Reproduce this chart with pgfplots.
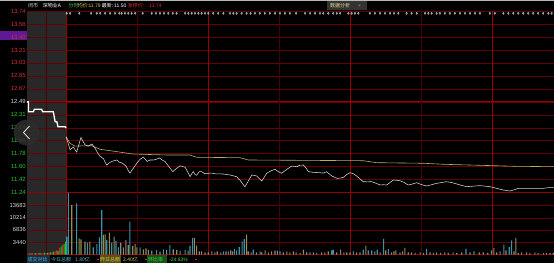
\documentclass[border=0pt]{standalone}
\usepackage{pgfplots}
\pgfplotsset{compat=1.18}
\usepackage{fontspec}
\setmainfont{Liberation Sans}
\newfontfamily\cjk{Noto Sans CJK SC}
\definecolor{gdim}{RGB}{100,0,0}
\definecolor{gbright}{RGB}{150,0,0}
\definecolor{vdim}{RGB}{70,0,0}
\definecolor{lred}{RGB}{215,45,45}
\definecolor{lgreen}{RGB}{40,200,40}
\definecolor{lwhite}{RGB}{215,215,215}
\definecolor{avgc}{RGB}{180,175,95}
\definecolor{vteal}{RGB}{55,150,170}
\definecolor{vkhaki}{RGB}{150,140,85}
\definecolor{vgray}{RGB}{140,140,140}
\definecolor{vred}{RGB}{225,35,35}
\definecolor{vgreen}{RGB}{35,200,35}
\definecolor{shadec}{RGB}{40,40,40}
\definecolor{purp}{RGB}{95,25,150}
\definecolor{hdcyan}{RGB}{70,190,210}
\definecolor{hdyel}{RGB}{215,200,70}
\definecolor{hdgreen}{RGB}{70,210,70}
\definecolor{ftblue}{RGB}{25,45,70}
\definecolor{ftolive}{RGB}{90,80,20}
\definecolor{ftgreen}{RGB}{20,85,20}
\begin{document}
\begin{tikzpicture}
\useasboundingbox (0,0) rectangle (554pt,263pt);
\fill[black] (0,0) rectangle (554pt,263pt);
\fill[shadec] (27pt,8pt) rectangle (66pt,252pt);
\fill[purp] (0,222.5pt) rectangle (26.5pt,231.5pt);
\draw[gray!55, line width=1pt] (0,262.5pt) -- (554pt,262.5pt);
% horizontal grid (price)
\foreach \k in {0,...,14} {\draw[gdim, line width=0.6pt] (27pt,{252pt-12.979pt*\k}) -- (554pt,{252pt-12.979pt*\k});}
\draw[gbright, line width=0.9pt] (27pt,161.15pt) -- (554pt,161.15pt);
\draw[gbright, line width=0.9pt] (27pt,70.3pt) -- (554pt,70.3pt);
% volume grid
\foreach \yy in {20.8,33.0,45.2,57.7} {\draw[gdim, line width=0.6pt] (27pt,\yy pt) -- (554pt,\yy pt);}
\draw[gbright, line width=0.9pt] (27pt,8.4pt) -- (554pt,8.4pt);
% vertical grid
\foreach \xx in {46.7,137.0,279.0,421.1} {\draw[vdim, line width=0.6pt] (\xx pt,8pt) -- (\xx pt,252pt);}
\foreach \xx in {66,208.0,350.0,492.1} {\draw[gbright, line width=0.8pt] (\xx pt,8pt) -- (\xx pt,252pt);}

\begin{axis}[at={(27pt,70.3pt)}, anchor=south west, width=527pt, height=181.7pt, scale only axis,
  xmin=-16.5, xmax=206.2, ymin=11.24, ymax=13.74,
  axis line style={draw=none}, major tick length=0pt, xtick=\empty,
  ytick={11.24,11.4186,11.5971,11.7757,11.9543,12.1329,12.3114,12.49,12.6686,12.8471,13.0257,13.2043,13.3829,13.5614,13.74},
  yticklabels={\textcolor{lgreen}{11.24},\textcolor{lgreen}{11.42},\textcolor{lgreen}{11.60},\textcolor{lgreen}{11.78},\textcolor{lgreen}{11.96},\textcolor{lgreen}{12.14},\textcolor{lgreen}{12.31},\textcolor{lwhite}{12.49},\textcolor{lred}{12.67},\textcolor{lred}{12.85},\textcolor{lred}{13.03},\textcolor{lred}{13.21},\textcolor{lred}{13.40},\textcolor{lred}{13.56},\textcolor{lred}{13.74}},
  yticklabel style={font=\fontsize{6}{6}\selectfont, anchor=east, inner sep=1pt},
]
\addplot[only marks, mark=diamond*, mark size=1.1pt, color=gray!70] coordinates {
(0.3,13.708)(1.7,13.708)(5.6,13.708)(10.6,13.708)(13,13.708)(14.4,13.708)(16.5,13.708)(18.6,13.708)(20.7,13.708)(22.5,13.708)(23.5,13.708)(24.9,13.708)(26.3,13.708)(27.7,13.708)(29.2,13.708)(32.4,13.708)(36.2,13.708)(38,13.708)(39.7,13.708)(41.4,13.708)(43.2,13.708)(45.1,13.708)(46.7,13.708)(50.3,13.708)(51.7,13.708)(53.1,13.708)(54.5,13.708)(55.9,13.708)(57.3,13.708)(58.7,13.708)(60.1,13.708)(62.2,13.708)(64.3,13.708)(66.5,13.708)(69.3,13.708)(70.7,13.708)(72.1,13.708)(74.2,13.708)(76.3,13.708)(78,13.708)(79.8,13.708)(81.9,13.708)(84,13.708)(86.1,13.708)(88.3,13.708)(90.4,13.708)(92.5,13.708)(94.6,13.708)(97.2,13.708)(101,13.708)(103.1,13.708)(105.2,13.708)(107.3,13.708)(108.7,13.708)(110.8,13.708)(112.9,13.708)(114.4,13.708)(115.8,13.708)(119.3,13.708)(120.7,13.708)(122.1,13.708)(123.5,13.708)(128.4,13.708)(130.5,13.708)(132.7,13.708)(134.8,13.708)(136.9,13.708)(138.6,13.708)(140.4,13.708)(143.9,13.708)(146,13.708)(148.2,13.708)(151.7,13.708)(153.1,13.708)(154.5,13.708)(156.6,13.708)(158,13.708)(160.1,13.708)(162.2,13.708)(164.3,13.708)(166.5,13.708)(168.6,13.708)(170.7,13.708)(172.8,13.708)(174.9,13.708)(179.1,13.708)(181.2,13.708)(184.8,13.708)(186.9,13.708)(189,13.708)(191.1,13.708)(193.2,13.708)(195.3,13.708)(197.4,13.708)(199.5,13.708)(201.6,13.708)(203.8,13.708)(205.2,13.708)};
% pre-market
\addplot[white, line width=1.3pt] coordinates {
(-16.5,12.49)(-15.9,12.49)(-15.9,12.354)(-13.8,12.354)(-13.4,12.387)(-10.3,12.387)(-9.9,12.354)(-5.4,12.354)(-4.6,12.217)(-3.9,12.217)(-3.4,12.148)(-0.4,12.148)(0,12.13)};
% average price
\addplot[avgc, line width=0.6pt] coordinates {
(0,12.01)(1.7,11.92)(3.8,11.88)(5.9,11.883)(10.9,11.887)(14.4,11.837)(18.6,11.818)(28.4,11.772)(42.5,11.759)(52.4,11.759)(55.2,11.727)(73.5,11.722)(77,11.69)(125.6,11.68)(131.3,11.653)(151,11.645)(159.4,11.631)(190.4,11.603)(206.2,11.598)};
% price
\addplot[lwhite, line width=0.55pt] coordinates {
(0,12.01)(0.8,11.93)(1.7,11.83)(2.4,11.85)(3.1,11.87)(3.8,11.83)(4.5,11.80)(5.4,11.90)(6.3,12.00)(7.1,11.95)(8.0,11.90)(9.4,11.88)(10.9,11.91)(12.3,11.85)(13.3,11.79)(14.4,11.74)(15.8,11.71)(16.5,11.66)(17.2,11.62)(18.2,11.65)(19.3,11.67)(21.4,11.69)(22.5,11.66)(23.5,11.65)(25.3,11.61)(26.2,11.55)(27.0,11.51)(28.5,11.58)(29.9,11.645)(31.3,11.70)(32.7,11.73)(34.3,11.67)(35.5,11.69)(36.9,11.69)(38.2,11.70)(39.4,11.72)(40.6,11.69)(41.8,11.67)(43.9,11.58)(45.1,11.53)(46.5,11.57)(48.2,11.61)(50.3,11.59)(51.5,11.52)(52.4,11.46)(53.1,11.50)(53.8,11.53)(54.5,11.49)(55.2,11.48)(56.3,11.53)(57.3,11.53)(58.7,11.50)(60.1,11.507)(61.6,11.51)(63,11.50)(66.5,11.497)(69.3,11.484)(72.1,11.46)(73.8,11.40)(75.6,11.32)(77.0,11.40)(78.5,11.484)(80.6,11.47)(82.7,11.40)(84.8,11.507)(86.5,11.54)(88.3,11.562)(89.7,11.53)(91.1,11.507)(93.2,11.56)(95.4,11.607)(97.5,11.598)(98.9,11.62)(100.3,11.621)(101.4,11.58)(102.4,11.53)(104.5,11.52)(107.3,11.515)(108.7,11.51)(110.1,11.529)(112.3,11.47)(114.4,11.438)(115.8,11.44)(117.2,11.452)(118.6,11.49)(120,11.515)(121.4,11.50)(122.8,11.47)(124.2,11.43)(125.6,11.391)(127.4,11.39)(129.2,11.391)(131,11.37)(132.7,11.346)(134.1,11.35)(135.5,11.346)(136.9,11.38)(138.3,11.415)(139.7,11.41)(141.1,11.405)(142.9,11.38)(144.6,11.346)(146.4,11.36)(148.2,11.378)(150.3,11.35)(152.4,11.332)(154.5,11.35)(156.6,11.369)(158.7,11.38)(160.8,11.391)(163,11.38)(165.1,11.36)(167.2,11.34)(169.3,11.323)(172,11.33)(174.9,11.337)(177,11.33)(179.1,11.323)(182,11.30)(184.8,11.277)(187.6,11.263)(189.4,11.28)(191.1,11.30)(193.5,11.30)(196,11.30)(198.8,11.30)(201.6,11.30)(204,11.31)(206.2,11.309)};
\end{axis}

\begin{axis}[at={(27pt,8.4pt)}, anchor=south west, width=527pt, height=61.9pt, scale only axis,
  xmin=-16.5, xmax=206.2, ymin=0, ymax=17171, scaled y ticks=false,
  axis line style={draw=none}, major tick length=0pt, xtick=\empty,
  ytick={3440,6836,10214,13683}, yticklabels={3440,6836,10214,13683},
  yticklabel style={font=\fontsize{5.8}{6}\selectfont, anchor=east, inner sep=1pt, text=lwhite},
  ybar, bar width=1.1pt, bar shift=0pt,
]
\addplot[fill=vred, draw=none] coordinates {(-16.05,300)(-15.4,400)(-14.2,400)(-13.5,300)(-12.3,300)(-11.6,500)(-10.4,300)(-9.7,400)(-8.4,400)(-7.2,500)(-5.9,600)(-4.6,900)(-4.0,1200)(-2.7,1800)(-1.5,2600)};
\addplot[fill=vgreen, draw=none] coordinates {(-14.8,300)(-12.9,400)(-11.0,400)(-9.1,500)(-7.8,500)(-6.5,600)(-5.3,800)(-3.4,1000)(-2.1,2200)(-0.8,3000)(-0.2,3600)};
\addplot[fill=vteal, draw=none] coordinates {(0.3,4970)(1.0,17170)(4.5,14230)(9.0,3300)(11.5,2020)(13.0,2940)(14.1,4800)(15.1,12370)(17.2,4050)(19.3,3300)(21.1,3770)(22.1,2020)(27.0,9130)(31.3,2020)(36.2,1080)(38.3,1280)(41.1,1470)(43.9,2660)(48.2,1080)(50.3,1280)(52.4,2500)(53.5,4620)(66.5,925)(68.6,925)(71.1,1570)(72.1,1200)(73.2,2130)(74.4,3700)(75.3,4350)(79.1,1390)(82.0,925)(90.4,925)(103.1,650)(105.9,460)(112.3,1200)(112.9,1390)(121.4,925)(125.6,1390)(127.7,1200)(129.2,1200)(131.5,1390)(134.2,4350)(136.2,1570)(141.1,650)(152.4,1570)(155.2,460)(163.6,650)(169.0,1570)(172.4,925)(179.8,1200)(185.0,2780)(187.3,2130)(188.3,3980)(201.7,460)};
\addplot[fill=vkhaki, draw=none] coordinates {(2.4,13760)(5.5,4520)(6.3,4240)(10.1,3580)(15.8,5440)(16.5,5630)(18.3,6080)(20.3,4970)(24.2,2020)(26.3,2660)(28.2,2390)(29.2,2940)(29.9,2020)(32.7,1470)(33.8,1750)(46.8,1280)(51.6,1080)(54.2,4620)(55.2,2500)(58.7,650)(61.6,925)(70.4,925)(76.3,5550)(77.0,925)(84.1,1200)(86.9,925)(94.6,650)(100.3,1390)(109.4,650)(110.8,925)(114.4,650)(118.6,650)(124.2,650)(126.7,2500)(132.7,650)(135.1,1200)(138.6,925)(142.2,925)(143.2,1850)(151.0,460)(174.6,650)(180.8,1850)(185.9,1200)(190.1,4620)};
\addplot[fill=vgray, draw=none] coordinates {(8.0,3580)(23.1,3300)(25.3,4050)(34.8,1280)(39.7,800)(42.5,1280)(45.3,1470)(56.3,925)(57.3,925)(60.1,650)(62.9,650)(63.9,925)(65.4,650)(67.6,925)(69.6,1200)(78.2,650)(80.5,650)(82.7,650)(85.5,650)(88.3,1110)(89.3,1110)(91.8,650)(93.3,925)(96.1,925)(97.2,650)(98.9,460)(101.7,650)(104.5,650)(108.0,650)(116.0,1390)(117.4,650)(120.0,650)(122.8,650)(130.5,925)(137.6,650)(139.4,1200)(144.6,650)(146.0,650)(147.5,460)(149.6,650)(153.8,650)(156.6,650)(158.3,460)(160.1,650)(161.5,460)(165.1,460)(167.2,650)(170.7,650)(176.3,650)(178.2,460)(182.0,650)(183.4,925)(189.3,925)(191.1,460)(192.5,650)(194.6,650)(196.0,460)(198.1,650)(199.5,460)(203.0,460)(204.5,460)(205.9,460)};
\end{axis}

% navigation button
\fill[gray!35!black, opacity=0.85] (26.5pt,130.5pt) circle (13pt);
\draw[white, line width=0.7pt] (29.5pt,137pt) -- (23.5pt,130.5pt) -- (29.5pt,124pt);

% header
\begin{scope}[every node/.style={anchor=base west, inner sep=0pt, font=\fontsize{5}{5}\selectfont}]
\node[text=lwhite] at (28pt,255pt) {\cjk 闭市};
\node[text=white] at (42.7pt,255pt) {\cjk 深物业A};
\node[text=hdgreen] at (68.3pt,255pt) {\cjk 分时};
\node[text=hdyel] at (77.7pt,255pt) {\cjk 均价:};
\node[text=hdyel] at (88.3pt,255pt) {11.79};
\node[text=white] at (101.7pt,255pt) {\cjk 最新:};
\node[text=white] at (114pt,255pt) {11.50};
\node[text=lred] at (127.7pt,255pt) {\cjk 涨停价:};
\node[text=lred] at (149pt,255pt) {13.74};
\end{scope}
\fill[gray!40!black] (327pt,253pt) rectangle (367pt,262pt);
\node[anchor=base west, inner sep=0pt, font=\fontsize{5}{5}\selectfont, text=hdyel!60!white] at (330pt,255pt) {\cjk 数据分析};
\node[anchor=base west, inner sep=0pt, font=\fontsize{5}{5}\selectfont, text=gray!80] at (358pt,255pt) {×};

% footer
\fill[ftblue] (27pt,0.5pt) rectangle (49.5pt,7.8pt);
\fill[ftolive] (99.5pt,0.5pt) rectangle (121pt,7.8pt);
\fill[ftgreen] (147pt,0.5pt) rectangle (167pt,7.8pt);
\begin{scope}[every node/.style={anchor=base west, inner sep=0pt, font=\fontsize{5}{5}\selectfont}]
\node[text=hdcyan] at (27.5pt,2pt) {\cjk 成交对比};
\node[text=hdcyan] at (51pt,2pt) {\cjk 今日总额};
\node[text=hdcyan] at (75pt,2pt) {\cjk 1.80亿};
\node[text=hdyel] at (100pt,2pt) {\cjk 昨日总额};
\node[text=hdyel] at (123pt,2pt) {\cjk 2.40亿};
\node[text=hdgreen] at (148pt,2pt) {\cjk 环比率};
\node[text=hdgreen] at (169pt,2pt) {-24.83\%};
\end{scope}
\foreach \xx in {97,145,195} {\fill[lred] (\xx pt,3pt) rectangle ++(1.5pt,1.5pt);}
\end{tikzpicture}
\end{document}
